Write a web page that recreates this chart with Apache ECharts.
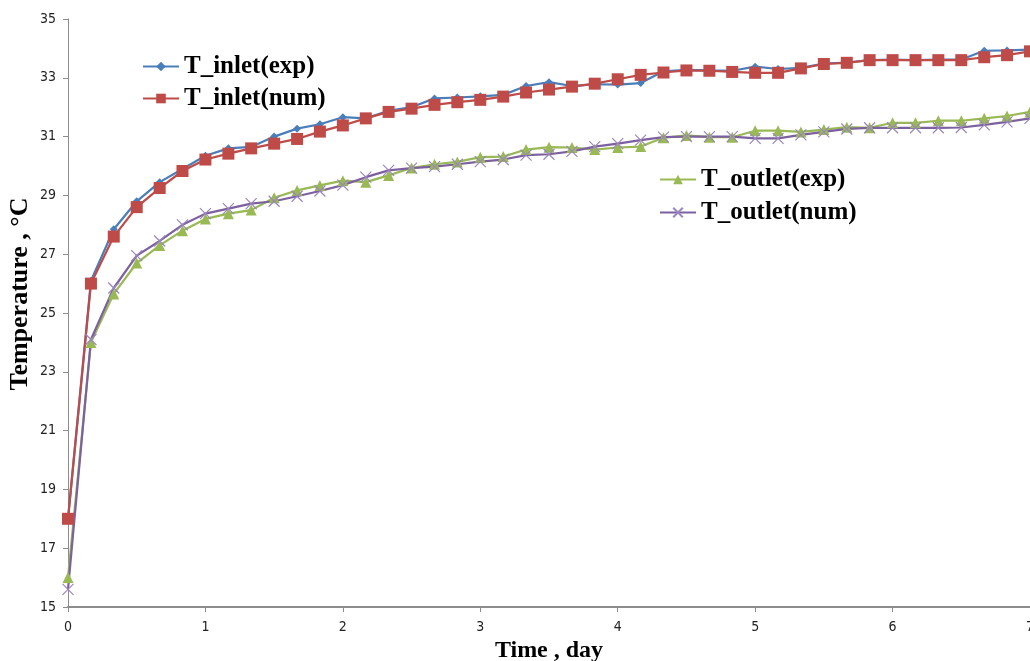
<!DOCTYPE html>
<html>
<head>
<meta charset="utf-8">
<script src="https://cdn.jsdelivr.net/npm/echarts@6/dist/echarts.min.js"></script>
<style>
  html, body { margin: 0; padding: 0; background: #fff; }
  #tempChart { width: 1030px; height: 661px; }
</style>
</head>
<body>
<div id="tempChart"></div>
<script>
// time, day (one reading every 4 hours)
let time_days = [0, 0.167, 0.333, 0.5, 0.667, 0.833, 1, 1.167, 1.333, 1.5, 1.667, 1.833,
  2, 2.167, 2.333, 2.5, 2.667, 2.833, 3, 3.167, 3.333, 3.5, 3.667, 3.833,
  4, 4.167, 4.333, 4.5, 4.667, 4.833, 5, 5.167, 5.333, 5.5, 5.667, 5.833,
  6, 6.167, 6.333, 6.5, 6.667, 6.833, 7];

let t_inlet_exp = [18.0, 26.1, 27.85, 28.8, 29.45, 29.9, 30.35, 30.6, 30.65, 31.0, 31.27, 31.42,
  31.66, 31.62, 31.88, 32.0, 32.3, 32.33, 32.37, 32.42, 32.72, 32.85, 32.72, 32.78,
  32.77, 32.82, 33.22, 33.27, 33.25, 33.24, 33.38, 33.3, 33.34, 33.48, 33.52, 33.6,
  33.62, 33.6, 33.62, 33.62, 33.92, 33.93, 33.96];

let t_inlet_num = [18.0, 26.0, 27.6, 28.6, 29.25, 29.83, 30.22, 30.42, 30.6, 30.76, 30.92, 31.17,
  31.38, 31.62, 31.84, 31.95, 32.08, 32.17, 32.25, 32.36, 32.5, 32.6, 32.7, 32.8,
  32.95, 33.1, 33.18, 33.25, 33.24, 33.2, 33.17, 33.17, 33.32, 33.47, 33.51, 33.6,
  33.6, 33.6, 33.6, 33.6, 33.7, 33.77, 33.9];

let t_outlet_exp = [16.0, 24.0, 25.65, 26.7, 27.3, 27.8, 28.2, 28.38, 28.5, 28.92, 29.17, 29.34,
  29.5, 29.45, 29.68, 29.93, 30.06, 30.14, 30.3, 30.32, 30.56, 30.64, 30.63, 30.56,
  30.63, 30.66, 30.96, 31.04, 30.98, 30.98, 31.2, 31.2, 31.16, 31.24, 31.32, 31.3,
  31.47, 31.47, 31.54, 31.54, 31.62, 31.7, 31.84];

let t_outlet_num = [15.6, 24.1, 25.85, 26.95, 27.45, 28.0, 28.38, 28.55, 28.72, 28.8, 28.97, 29.15,
  29.35, 29.62, 29.85, 29.93, 29.98, 30.06, 30.15, 30.22, 30.37, 30.4, 30.5, 30.66,
  30.76, 30.88, 30.98, 31.0, 31.0, 31.0, 30.94, 30.94, 31.06, 31.16, 31.26, 31.3,
  31.3, 31.3, 31.3, 31.31, 31.4, 31.5, 31.62];


document.addEventListener("DOMContentLoaded", () => {
    setTempChart();
});


function pairUp(ys) {
    return time_days.map(function (t, i) {
        return [t, ys[i]];
    });
}


function setTempChart() {

    var serifBold = {
        fontFamily: 'Liberation Serif, Times New Roman, serif',
        fontWeight: 'bold',
        color: '#000'
    };
    var tickFont = {
        fontFamily: 'Liberation Sans Narrow, DejaVu Sans Condensed, sans-serif',
        fontSize: 14,
        color: '#222'
    };
    var axisGray = '#8c8c8c';

    echarts.init(document.querySelector("#tempChart")).setOption({
        animation: false,
        backgroundColor: '#fff',
        grid: {
            left: 68,
            right: 0,
            top: 19,
            bottom: 54,
            containLabel: false,
            outerBoundsMode: 'none'
        },
        legend: [{
            orient: 'vertical',
            left: 137,
            top: 49,
            itemWidth: 36,
            itemHeight: 12,
            itemGap: 7,
            textStyle: Object.assign({ fontSize: 25 }, serifBold),
            data: ['T_inlet(exp)', 'T_inlet(num)']
        }, {
            orient: 'vertical',
            left: 654,
            top: 162,
            itemWidth: 36,
            itemHeight: 12,
            itemGap: 8,
            textStyle: Object.assign({ fontSize: 25 }, serifBold),
            data: ['T_outlet(exp)', 'T_outlet(num)']
        }],
        xAxis: {
            type: 'value',
            min: 0,
            max: 7,
            interval: 1,
            name: 'Time , day',
            nameLocation: 'middle',
            nameGap: 32,
            nameMoveOverlap: false,
            nameTextStyle: Object.assign({ fontSize: 24 }, serifBold),
            splitLine: { show: false },
            axisLine: { lineStyle: { color: axisGray, width: 2 } },
            axisTick: { length: 5, lineStyle: { color: axisGray } },
            axisLabel: Object.assign({ margin: 13 }, tickFont)
        },
        yAxis: {
            type: 'value',
            min: 15,
            max: 35,
            interval: 2,
            name: 'Temperature , °C',
            nameLocation: 'middle',
            nameGap: 35,
            nameMoveOverlap: false,
            nameTextStyle: Object.assign({ fontSize: 26, padding: [0, 0, 0, 38] }, serifBold),
            splitLine: { show: false },
            axisLine: { show: true, lineStyle: { color: axisGray, width: 1 } },
            axisTick: { show: true, length: 5, lineStyle: { color: axisGray } },
            axisLabel: Object.assign({ margin: 12 }, tickFont)
        },
        series: [{
            name: 'T_inlet(exp)',
            type: 'line',
            symbol: 'diamond',
            symbolSize: 8,
            color: '#4a7ebb',
            lineStyle: { width: 2.2 },
            data: pairUp(t_inlet_exp)
        }, {
            name: 'T_inlet(num)',
            type: 'line',
            symbol: 'rect',
            symbolSize: 12,
            color: '#be4b48',
            lineStyle: { width: 2.2 },
            data: pairUp(t_inlet_num)
        }, {
            name: 'T_outlet(exp)',
            type: 'line',
            symbol: 'triangle',
            symbolSize: 11,
            color: '#98b954',
            lineStyle: { width: 2.2 },
            data: pairUp(t_outlet_exp)
        }, {
            name: 'T_outlet(num)',
            type: 'line',
            symbol: 'path://M0,0L10,10M10,0L0,10',
            symbolSize: 11,
            color: '#7d60a0',
            itemStyle: { borderColor: '#9b86bd', borderWidth: 1.2 },
            lineStyle: { width: 2.2 },
            data: pairUp(t_outlet_num)
        }]
    });

}
</script>
</body>
</html>
